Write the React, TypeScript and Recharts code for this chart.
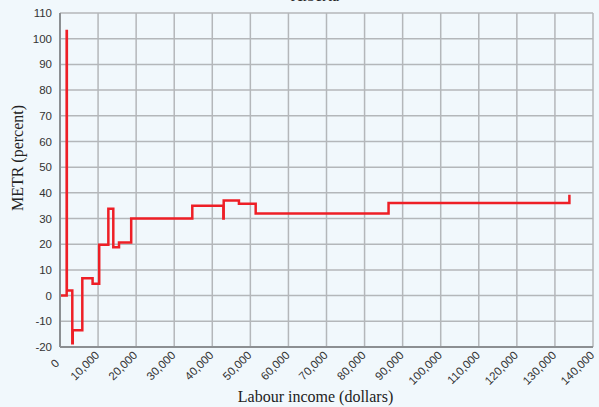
import { LineChart, Line, XAxis, YAxis, CartesianGrid } from 'recharts';

// step points: income (dollars) and the METR level that starts there
const income = [0, 1750, 1800, 3230, 3350, 5860, 8560, 10300, 12700, 14000, 15500, 18700, 34750, 42900, 43000, 47000, 51400, 86300, 133800];
const metr = [0, 103, 2, -18.5, -13.5, 6.8, 4.6, 19.8, 33.8, 18.8, 20.7, 30, 35, 30, 37, 35.8, 32, 36, 39.3];

const xTicks = [0, 10000, 20000, 30000, 40000, 50000, 60000, 70000, 80000, 90000, 100000, 110000, 120000, 130000, 140000];
const yTicks = [-20, -10, 0, 10, 20, 30, 40, 50, 60, 70, 80, 90, 100, 110];

const data = income.map((x, i) => ({ income: x, metr: metr[i] }));

const SANS = '"Liberation Sans", Arial, sans-serif';
const SERIF = '"Liberation Serif", "Times New Roman", serif';

const XTick = ({ x, y, payload }: any) => {
  const label = payload.value === 0 ? '0' : payload.value.toLocaleString('en-US');
  const ax = payload.value === 0 ? x : x + 2;
  const ay = payload.value === 0 ? y + 9 : y + 1;
  return (
    <text
      x={ax}
      y={ay}
      textAnchor="end"
      transform={`rotate(-45, ${ax}, ${ay})`}
      fontFamily={SANS}
      fontSize={11.5}
      fill="#333"
    >
      {label}
    </text>
  );
};

const YLabel = () => (
  <text
    x={17}
    y={158}
    textAnchor="middle"
    dominantBaseline="central"
    transform="rotate(-90, 17, 158)"
    fontFamily={SERIF}
    fontSize={16}
    fill="#222"
  >
    METR (percent)
  </text>
);

export default function App() {
  return (
    <div style={{ position: 'absolute', left: 0, top: 0, width: 599, height: 407, background: '#f1f8fc' }}>
      <div
        style={{
          position: 'absolute',
          left: 0,
          width: 630,
          top: -13,
          textAlign: 'center',
          fontFamily: SERIF,
          fontSize: 16,
          color: '#222',
        }}
      >
        Alberta
      </div>
      <LineChart width={599} height={407} data={data} margin={{ top: 13, right: 6, left: 0, bottom: 0 }}>
        <CartesianGrid stroke="#b4b7ba" strokeWidth={1.5} />
        <XAxis
          dataKey="income"
          type="number"
          domain={[0, 140000]}
          ticks={xTicks}
          interval={0}
          height={60}
          tick={<XTick />}
          tickLine={false}
          axisLine={{ stroke: '#8c8f92', strokeWidth: 2 }}
          label={{ value: 'Labour income (dollars)', position: 'insideBottom', offset: 5, dx: -11, fontFamily: SERIF, fontSize: 16, fill: '#222' }}
        />
        <YAxis
          type="number"
          domain={[-20, 110]}
          ticks={yTicks}
          interval={0}
          width={60}
          tickLine={false}
          axisLine={{ stroke: '#8c8f92', strokeWidth: 2 }}
          tick={{ fontFamily: SANS, fontSize: 11.5, fill: '#333' }}
          tickMargin={2}
          label={<YLabel />}
        />
        <Line
          type="stepAfter"
          dataKey="metr"
          stroke="#ee1f26"
          strokeWidth={2.5}
          dot={false}
          isAnimationActive={false}
        />
      </LineChart>
    </div>
  );
}
